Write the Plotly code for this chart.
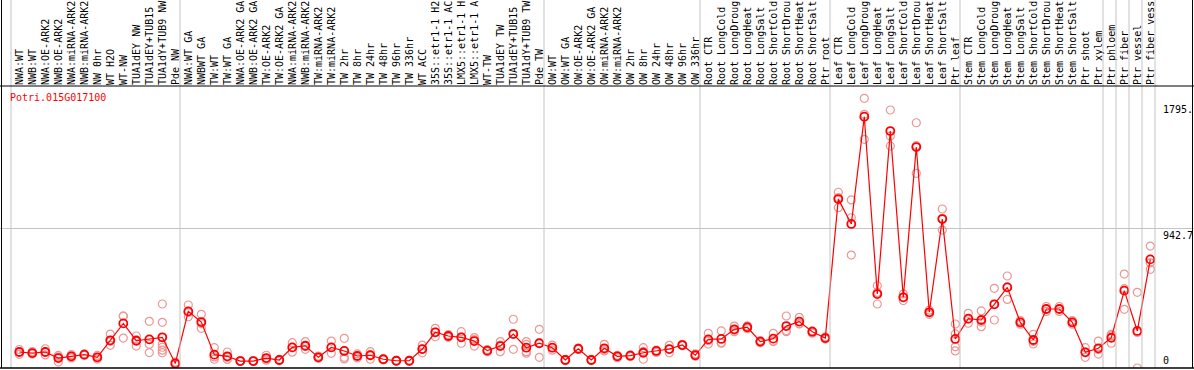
import plotly.graph_objects as go

gene = "Potri.015G017100"

categories = [
    "NWA:WT", "NWB:WT", "NWA:OE-ARK2", "NWB:OE-ARK2", "NWA:miRNA-ARK2", "NWB:miRNA-ARK2",
    "NW 0hr", "WT H2O", "WT-NW", "TUA1dEY NW", "TUA1dEY+TUB15", "TUA1dY+TUB9 NW", "Pde NW",
    "NWA:WT GA", "NWBWT GA", "TW:WT", "TW:WT GA", "NWA:OE-ARK2 GA", "NWB:OE-ARK2 GA",
    "TW:OE-ARK2", "TW:OE-ARK2 GA", "NWA:miRNA-ARK2", "NWB:miRNA-ARK2", "TW:miRNA-ARK2",
    "TW:miRNA-ARK2", "TW 2hr", "TW 8hr", "TW 24hr", "TW 48hr", "TW 96hr", "TW 336hr",
    "WT ACC", "35S::etr1-1 H2", "35S::etr1-1 AC", "LMX5::etr1-1 H", "LMX5::etr1-1 A",
    "WT-TW", "TUA1dEY TW", "TUA1dEY+TUB15", "TUA1dY+TUB9 TW", "Pde TW",
    "OW:WT", "OW:WT GA", "OW:OE-ARK2", "OW:OE-ARK2 GA", "OW:miRNA-ARK2", "OW:miRNA-ARK2",
    "OW 2hr", "OW 8hr", "OW 24hr", "OW 48hr", "OW 96hr", "OW 336hr",
    "Root CTR", "Root LongCold", "Root LongDroug", "Root LongHeat", "Root LongSalt",
    "Root ShortCold", "Root ShortDrou", "Root ShortHeat", "Root ShortSalt", "Ptr root",
    "Leaf CTR", "Leaf LongCold", "Leaf LongDroug", "Leaf LongHeat", "Leaf LongSalt",
    "Leaf ShortCold", "Leaf ShortDrou", "Leaf ShortHeat", "Leaf ShortSalt", "Ptr leaf",
    "Stem CTR", "Stem LongCold", "Stem LongDroug", "Stem LongHeat", "Stem LongSalt",
    "Stem ShortCold", "Stem ShortDrou", "Stem ShortHeat", "Stem ShortSalt", "Ptr shoot",
    "Ptr xylem", "Ptr phloem", "Ptr fiber", "Ptr vessel", "Ptr fiber vess",
]

means = [
    108, 101, 108, 67, 79, 90, 72, 187, 301, 184, 193, 207, 31,
    382, 310, 90, 79, 47, 47, 67, 54, 139, 150, 72, 139, 115, 81, 86, 59, 49, 49,
    128, 241, 216, 207, 182, 117, 148, 229, 137, 167,
    137, 54, 130, 54, 133, 79, 83, 103, 115, 128, 155, 86,
    193, 196, 261, 275, 178, 198, 283, 313, 245, 202,
    1140, 972, 1696, 499, 1599, 477, 1491, 376, 1005, 196,
    333, 324, 430, 544, 308, 189, 398, 398, 308, 106, 133,
    204, 522, 250, 733,
]

replicates = [
    [125, 108, 92], [110, 100, 95], [130, 108, 88], [85, 75, 40], [90, 80, 68],
    [95, 90, 85], [85, 72, 60], [229, 180, 153], [351, 350, 202], [216, 190, 148],
    [315, 193, 160, 104], [432, 308, 160, 140, 120, 103], [40, 30, 25],
    [425, 375, 346], [362, 300, 268], [137, 75, 59], [108, 72, 58], [50, 47, 44],
    [50, 47, 44], [86, 62, 53], [58, 54, 50], [171, 139, 107], [178, 145, 126],
    [80, 72, 65], [182, 139, 99], [200, 115, 72, 61], [95, 81, 68], [110, 88, 59],
    [62, 59, 56], [52, 49, 46], [52, 49, 46], [155, 128, 103], [268, 243, 211],
    [225, 216, 207], [245, 208, 167], [205, 192, 148], [125, 117, 110],
    [178, 155, 110], [329, 232, 126], [178, 160, 110, 100], [261, 168, 72],
    [155, 137, 120], [58, 54, 50], [135, 130, 125], [58, 54, 50], [160, 125, 115],
    [85, 79, 70], [88, 83, 78], [137, 112, 59], [120, 115, 105], [153, 128, 103],
    [160, 155, 150], [95, 86, 80],
    [234, 185, 162], [250, 171, 167], [283, 255, 245], [285, 275, 265],
    [185, 178, 170], [234, 182, 178], [351, 253, 245], [342, 300, 297],
    [250, 245, 235], [210, 200, 195],
    [1186, 1150, 1082], [1134, 1014, 762], [1820, 1712, 1543], [555, 510, 432],
    [1741, 1565, 1498], [500, 477, 455], [1655, 1500, 1314], [390, 376, 362],
    [1073, 1010, 931], [297, 230, 144, 115],
    [369, 330, 302], [385, 310, 279], [538, 430, 324], [621, 548, 463],
    [320, 308, 296], [227, 180, 162], [415, 398, 382], [415, 398, 382],
    [320, 308, 296], [137, 108, 72], [182, 125, 94],
    [227, 218, 167], [634, 535, 396], [511, 240, 0], [823, 710, 666],
]

group_bounds = [0, 13, 41, 53, 63, 73, 84, 85, 86, 87, 88]
y_label_vals = [1795, 942.7, 0]
y_label_text = ["1795.", "942.7", "0"]
y_grid_vals = [942.7]

# ---- layout geometry ----
W, H = 1194, 370
TOP = 86          # bottom of label band / top of plot
BOTTOM = 368      # bottom of plot area
COL = 13.0        # column width in px
X0 = 19.3         # px position of first category
YMAX = 1903.0

xmin = -X0 / COL
xmax = (W - X0) / COL
plot_h = BOTTOM - TOP

def xpaper(xd):
    return (xd - xmin) / (xmax - xmin)

top_paper = BOTTOM / plot_h   # page top in paper coords

n = len(categories)
xs = list(range(n))
rep_x = [i for i, r in enumerate(replicates) for _ in r]
rep_y = [v for r in replicates for v in r]

MONO = "DejaVu Sans Mono"

fig = go.Figure()
fig.add_trace(go.Scatter(
    x=rep_x, y=rep_y, mode="markers",
    marker=dict(symbol="circle-open", size=8, color="rgb(238,150,150)", line=dict(width=1.2)),
    hoverinfo="skip",
))
fig.add_trace(go.Scatter(
    x=xs, y=means, mode="lines+markers",
    line=dict(color="red", width=1.2),
    marker=dict(symbol="circle-open", size=8, color="red", line=dict(width=1.8)),
))

shapes = []
for b in group_bounds:
    xp = xpaper(b - 8.3 / COL)
    shapes.append(dict(type="line", xref="paper", yref="paper", x0=xp, x1=xp,
                       y0=0, y1=top_paper, line=dict(color="#c4c4c4", width=1)))
# frame
shapes.append(dict(type="line", xref="paper", yref="paper", x0=1.5 / W, x1=1.5 / W,
                   y0=0, y1=top_paper, line=dict(color="black", width=1)))
shapes.append(dict(type="line", xref="paper", yref="paper", x0=1192.5 / W, x1=1192.5 / W,
                   y0=0, y1=top_paper, line=dict(color="black", width=1)))
shapes.append(dict(type="line", xref="paper", yref="paper", x0=0, x1=1,
                   y0=1, y1=1, line=dict(color="black", width=1)))
shapes.append(dict(type="line", xref="paper", yref="paper", x0=0, x1=1,
                   y0=0, y1=0, line=dict(color="black", width=1.5)))

annotations = [dict(
    text=gene, xref="paper", yref="paper", x=8 / W, y=(BOTTOM - 97) / plot_h,
    xanchor="left", yanchor="middle", showarrow=False,
    font=dict(family=MONO, size=10, color="red"),
)]
for v, t in zip(y_label_vals, y_label_text):
    annotations.append(dict(
        text=t, xref="paper", yref="y", x=1161 / W, y=v,
        xanchor="left", yanchor="bottom" if v == 0 else "top", showarrow=False,
        font=dict(family=MONO, size=10, color="black"),
    ))

fig.update_layout(
    width=W, height=H,
    margin=dict(l=0, r=0, t=TOP, b=H - BOTTOM, pad=0),
    paper_bgcolor="white", plot_bgcolor="white",
    showlegend=False,
    shapes=shapes, annotations=annotations,
    xaxis=dict(
        side="top", range=[xmin, xmax], tickmode="array", tickvals=xs, ticktext=categories,
        tickangle=-90, tickfont=dict(family=MONO, size=10, color="black"),
        ticks="", showgrid=False, zeroline=False, showline=False, automargin=False,
    ),
    yaxis=dict(
        range=[0, YMAX], tickmode="array", tickvals=y_grid_vals, showticklabels=False,
        showgrid=True, gridcolor="#c4c4c4", gridwidth=1, zeroline=False, showline=False,
        ticks="", automargin=False,
    ),
)

fig.write_html(
    "out.html",
    config={"displayModeBar": False},
    post_script="document.body.style.margin='0';document.body.style.overflow='hidden';",
)
